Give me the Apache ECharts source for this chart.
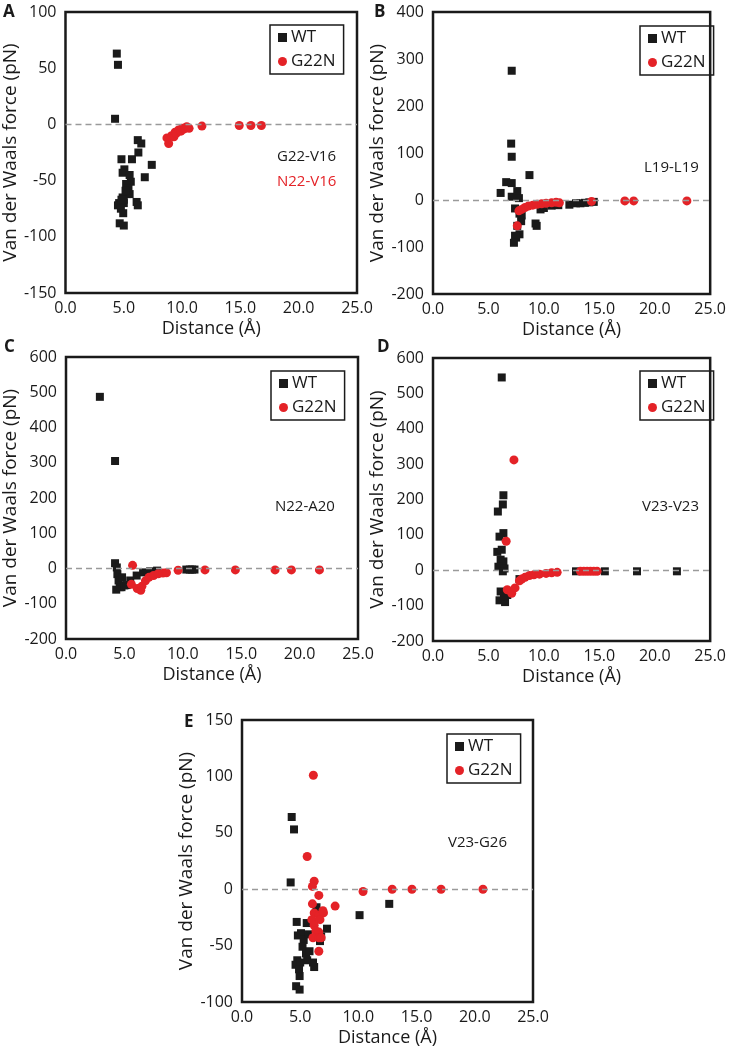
<!DOCTYPE html>
<html><head><meta charset="utf-8">
<script src="https://cdn.jsdelivr.net/npm/echarts@6/dist/echarts.min.js"></script>
<style>html,body{margin:0;padding:0;background:#fff}#c{width:729px;height:1055px}</style>
</head><body><div id="c"></div>
<script>
// ---- data ----
const seriesNames = ['WT', 'G22N'];
const xTicks = [0, 5, 10, 15, 20, 25];
const A_yTicks = [-150, -100, -50, 0, 50, 100];
const B_yTicks = [-200, -100, 0, 100, 200, 300, 400];
const C_yTicks = [-200, -100, 0, 100, 200, 300, 400, 500, 600];
const D_yTicks = [-200, -100, 0, 100, 200, 300, 400, 500, 600];
const E_yTicks = [-100, -50, 0, 50, 100, 150];
const pairLabels = ['G22-V16', 'N22-V16', 'L19-L19', 'N22-A20', 'V23-V23', 'V23-G26'];
const panelLetters = ['A', 'B', 'C', 'D', 'E'];

const A_WT = [[4.4,63],[4.5,53],[4.25,5],[6.2,-14],[6.5,-17],[6.25,-25],[5.7,-31],[4.8,-31],[7.4,-36],[6.8,-47],[5.05,-40],[4.9,-43],[5.5,-45],[5.6,-51],[5.2,-53],[5.4,-57],[5.25,-62],[5.5,-62],[4.9,-65],[4.6,-70],[4.5,-72],[5.0,-70],[4.75,-75],[4.95,-79],[6.1,-69],[6.2,-72],[4.65,-88],[5.0,-90],[5.0,-67],[5.15,-59],[4.8,-67]];
const A_G22N = [[8.85,-17],[8.7,-12],[9.1,-10],[9.3,-11],[9.4,-7],[9.5,-8],[9.7,-5],[9.9,-6],[10.0,-3.5],[10.2,-4],[10.3,-3],[10.4,-2],[10.6,-3.5],[11.7,-1.5],[14.9,-1],[15.9,-1],[16.8,-1]];

const B_WT = [[7.1,275],[7.05,120],[7.1,92],[6.6,38],[7.1,36],[6.1,15],[7.1,7],[7.6,19],[7.75,4],[8.7,53],[7.4,-18],[7.8,-29],[8.0,-33],[7.95,-45],[7.6,-55],[7.8,-73],[7.5,-80],[7.4,-76],[7.3,-91],[9.25,-50],[9.35,-55],[9.7,-20],[10.0,-17],[10.7,-12],[11.3,-11],[12.3,-10],[12.9,-7],[13.3,-7],[13.7,-6],[14.1,-5],[14.5,-4]];
const B_G22N = [[7.6,-55],[7.75,-23],[8.0,-20],[8.3,-16],[8.6,-13],[9.0,-11],[9.4,-9],[9.8,-8],[10.2,-7],[10.7,-6],[11.1,-5],[11.4,-6],[14.3,-3],[17.3,-2],[18.1,-2],[22.9,-2]];

const C_WT = [[2.9,487],[4.2,305],[4.2,15],[4.35,3],[4.4,-16],[4.5,-34],[4.6,-53],[4.75,-53],[5.0,-48],[5.5,-34],[6.05,-20],[6.6,-11],[7.2,-8],[7.8,-6],[10.3,-3],[10.6,-3],[10.8,-3],[11.0,-3],[4.3,-60],[4.8,-25],[5.2,-47]];
const C_G22N = [[5.7,9],[5.6,-45],[6.1,-57],[6.4,-62],[6.5,-50],[6.8,-35],[7.1,-25],[7.5,-20],[7.9,-15],[8.3,-13],[8.6,-12],[9.6,-5],[11.9,-4],[14.5,-4],[17.9,-4],[19.3,-4],[21.7,-4]];

const D_WT = [[6.2,545],[6.35,212],[6.3,186],[5.85,166],[6.0,95],[6.35,105],[5.8,52],[6.2,58],[6.1,30],[6.35,25],[5.9,10],[6.45,5],[6.3,-3],[6.1,-60],[6.0,-85],[6.5,-90],[6.7,-70],[6.4,-75],[7.8,-25],[12.9,-3],[15.5,-3],[18.4,-3],[22.0,-3]];
const D_G22N = [[7.3,312],[6.6,82],[6.7,-55],[7.1,-65],[7.4,-50],[7.8,-30],[8.0,-25],[8.3,-20],[8.7,-15],[9.1,-13],[9.6,-11],[10.2,-9],[10.7,-7],[11.2,-6],[13.3,-3],[13.6,-3],[13.9,-3],[14.2,-3],[14.5,-3],[14.8,-3]];

const E_WT = [[4.27,64],[4.47,53],[4.18,6],[4.7,-29],[4.8,-41],[5.07,-39],[5.56,-30],[6.4,-16],[7.3,-35],[6.7,-46],[5.3,-45],[5.2,-51],[5.5,-57],[5.6,-63],[4.75,-63],[4.6,-67],[5.0,-65],[4.9,-71],[4.95,-77],[4.65,-86],[4.95,-89],[6.1,-65],[6.2,-69],[5.8,-55],[10.1,-23],[12.65,-13],[5.7,-40],[6.8,-42]];
const E_G22N = [[6.13,101],[5.6,29],[6.2,7],[6.05,2.5],[6.6,-5.5],[8.0,-15],[10.4,-2],[12.9,0],[14.6,0],[17.1,0],[20.7,0],[6.05,-13],[6.2,-21],[6.6,-23],[6.95,-19],[7.0,-21],[6.0,-27],[6.7,-27],[6.2,-32],[6.35,-37],[6.6,-38],[6.1,-43],[6.6,-43],[6.8,-43],[6.6,-55]];

// ---- layout / style ----
const FONT = '"Open Sans", "Liberation Sans", sans-serif';
const BLACK = '#1a1a1a', RED = '#e42227';
const panels = [
  {wt: A_WT, mut: A_G22N, y: A_yTicks, grid: {left: 65, top: 12, width: 292, height: 281}, legend: {left: 270, top: 25},
   letter: [3, 12], notes: [[0, 277, 157, BLACK], [1, 277, 182, RED]]},
  {wt: B_WT, mut: B_G22N, y: B_yTicks, grid: {left: 433, top: 12, width: 291, height: 282}, legend: {left: 640, top: 26},
   letter: [374, 12], notes: [[2, 644, 168, BLACK]]},
  {wt: C_WT, mut: C_G22N, y: C_yTicks, grid: {left: 66, top: 357, width: 292, height: 282}, legend: {left: 271, top: 371},
   letter: [4, 347], notes: [[3, 275, 507, BLACK]]},
  {wt: D_WT, mut: D_G22N, y: D_yTicks, grid: {left: 433, top: 358, width: 291, height: 283}, legend: {left: 640, top: 371},
   letter: [377, 347], notes: [[4, 642, 507, BLACK]]},
  {wt: E_WT, mut: E_G22N, y: E_yTicks, grid: {left: 242, top: 720, width: 291, height: 282}, legend: {left: 447, top: 734},
   letter: [184, 722], notes: [[5, 448, 843, BLACK]]}
];

const option = {
  animation: false,
  backgroundColor: '#fff',
  textStyle: {fontFamily: FONT},
  grid: [], xAxis: [], yAxis: [], series: [], legend: [], graphic: []
};

panels.forEach((p, i) => {
  option.grid.push(Object.assign({show: true, borderColor: BLACK, borderWidth: 2.5, backgroundColor: 'transparent'}, p.grid));
  option.xAxis.push({
    type: 'value', gridIndex: i, min: xTicks[0], max: xTicks[xTicks.length - 1], interval: xTicks[1] - xTicks[0],
    axisLine: {show: false}, axisTick: {show: false}, splitLine: {show: false},
    axisLabel: {color: BLACK, fontSize: 16, fontFamily: FONT, margin: 7, formatter: v => v.toFixed(1)},
    name: 'Distance (Å)', nameLocation: 'middle', nameGap: 27,
    nameTextStyle: {color: BLACK, fontSize: 18, fontFamily: FONT}
  });
  option.yAxis.push({
    type: 'value', gridIndex: i, min: p.y[0], max: p.y[p.y.length - 1], interval: p.y[1] - p.y[0],
    axisLine: {show: false}, axisTick: {show: false}, splitLine: {show: false},
    axisLabel: {color: BLACK, fontSize: 16, fontFamily: FONT, margin: 9},
    name: 'Van der Waals force (pN)', nameLocation: 'middle', nameGap: 43,
    nameTextStyle: {color: BLACK, fontSize: 19, fontFamily: FONT}
  });
  option.series.push({
    name: seriesNames[0], type: 'scatter', xAxisIndex: i, yAxisIndex: i, data: p.wt,
    symbol: 'rect', symbolSize: 8, itemStyle: {color: BLACK, opacity: 1}, z: 3,
    markLine: {silent: true, symbol: ['none', 'none'], label: {show: false},
      lineStyle: {color: '#9a9a9a', type: [6, 4], width: 1.3}, data: [{yAxis: 0}]}
  });
  option.series.push({
    name: seriesNames[1], type: 'scatter', xAxisIndex: i, yAxisIndex: i, data: p.mut,
    symbol: 'circle', symbolSize: 9, itemStyle: {color: RED, opacity: 1}, z: 4
  });
  option.legend.push({
    left: p.legend.left, top: p.legend.top, orient: 'vertical',
    data: [{name: seriesNames[0], icon: 'rect'}, {name: seriesNames[1], icon: 'circle'}],
    borderColor: BLACK, borderWidth: 1.5, padding: [4, 8, 4, 8], itemGap: 7,
    itemWidth: 9, itemHeight: 9, selectedMode: false,
    textStyle: {color: BLACK, fontSize: 17, fontFamily: FONT, padding: [0, 0, 0, -1]}
  });
  option.graphic.push({
    type: 'text', x: p.letter[0], y: p.letter[1],
    style: {text: panelLetters[i], fill: BLACK, font: 'bold 17px ' + FONT, verticalAlign: 'middle'}
  });
  p.notes.forEach(n => option.graphic.push({
    type: 'text', x: n[1], y: n[2],
    style: {text: pairLabels[n[0]], fill: n[3], font: '15px ' + FONT, verticalAlign: 'middle'}
  }));
});

const chart = echarts.init(document.getElementById('c'), null, {renderer: 'canvas'});
chart.setOption(option);
</script>
</body></html>
